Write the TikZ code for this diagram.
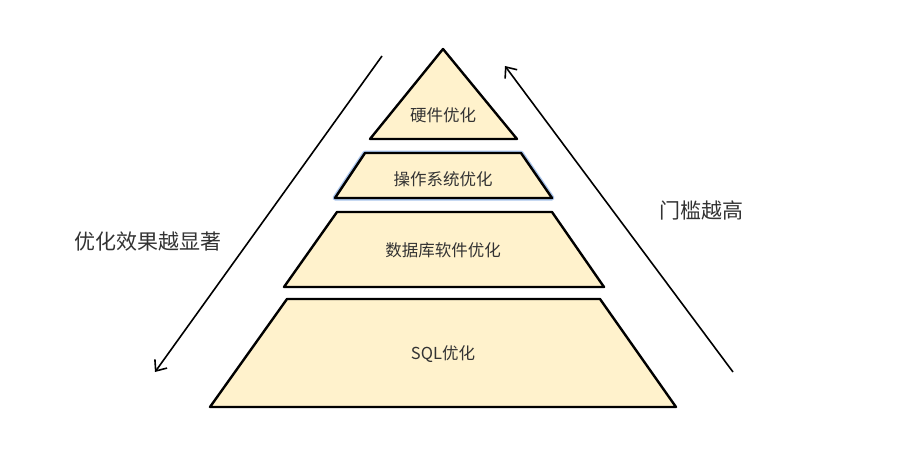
\documentclass[tikz,border=0pt]{standalone}
\usepackage{fontspec}
\newfontfamily\cjk{Noto Sans CJK SC}
\usetikzlibrary{arrows.meta}
\definecolor{layerfill}{HTML}{FFF2CC}
\definecolor{txtgray}{HTML}{333333}
\definecolor{selblue}{HTML}{A9C4EB}
\tikzset{
  layer/.style={fill=layerfill, draw=black, line width=2.4pt, line join=round},
  layerlabel/.style={font=\cjk\fontsize{16.5}{18}\selectfont, text=txtgray, inner sep=0pt},
  sidelabel/.style={font=\cjk\fontsize{21}{24}\selectfont, text=txtgray, inner sep=0pt},
  sidearrow/.style={draw=black, line width=1.6pt, -{Straight Barb[length=9pt,width=15pt,line width=1.6pt]}}
}
\begin{document}
\begin{tikzpicture}[x=1pt,y=-1pt]
\useasboundingbox (0,0) rectangle (922,452);
% layers
\draw[layer] (443,49) -- (517,139) -- (370,139) -- cycle;
\draw[draw=selblue, line width=5pt, line join=round] (365,153) -- (521,153) -- (552,198) -- (335,198) -- cycle;
\draw[layer] (365,153) -- (521,153) -- (552,198) -- (335,198) -- cycle;
\draw[layer] (337,212) -- (552,212) -- (604,287) -- (284,287) -- cycle;
\draw[layer] (287,299) -- (600,299) -- (676,407) -- (210,407) -- cycle;
% labels
\node[layerlabel] (hw) at (443,115) {硬件优化};
\node[layerlabel] (os) at (443,179) {操作系统优化};
\node[layerlabel] (db) at (443,250) {数据库软件优化};
\node[layerlabel] (sql) at (443,354) {SQL优化};
% arrows
\coordinate (lstart) at (382,56);
\coordinate (lend) at (155,372);
\coordinate (rstart) at (733,372);
\coordinate (rend) at (505,66);
\draw[sidearrow] (lstart) -- (lend);
\draw[sidearrow] (rstart) -- (rend);
\node[sidelabel] (effect) at (148,242) {优化效果越显著};
\node[sidelabel] (thresh) at (701,210) {门槛越高};
\end{tikzpicture}
\end{document}
